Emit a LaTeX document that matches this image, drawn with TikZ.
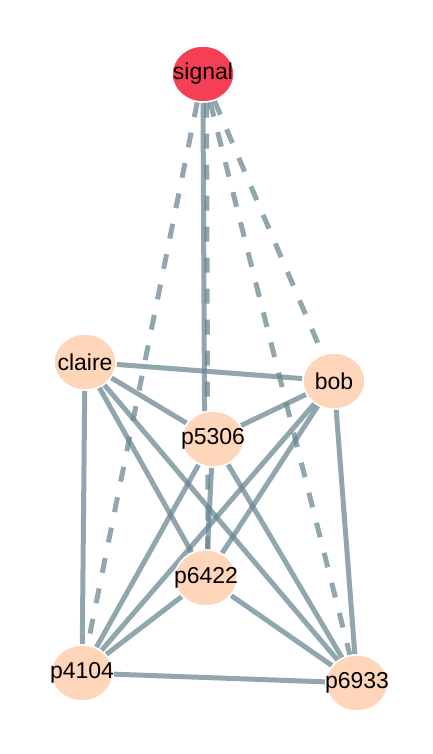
\documentclass[tikz,border=0pt]{standalone}
\usepackage{fontspec}
\setmainfont{Liberation Sans}
\usetikzlibrary{shapes.geometric}
\pgfdeclarelayer{background}
\pgfdeclarelayer{canvas}
\pgfsetlayers{canvas,background,main}
\definecolor{edgecol}{RGB}{105,132,144}
\definecolor{peach}{RGB}{255,214,186}
\definecolor{sigred}{RGB}{244,63,84}
\begin{document}
\begin{tikzpicture}[x=1pt,y=-1pt,
  vert/.style={ellipse,fill=peach,draw=white,line width=1.5pt,minimum width=62pt,minimum height=56pt,inner sep=0pt},
  lbl/.style={font=\fontsize{23}{25}\selectfont,text=black,inner sep=0pt},
  sig/.style={vert,fill=sigred},
  link/.style={draw=edgecol,opacity=0.72,line width=5pt},
  dlink/.style={link,dash pattern=on 15pt off 16pt}]
\begin{pgfonlayer}{canvas}
\fill[white] (0,0) rectangle (433,754);
\end{pgfonlayer}
\useasboundingbox (0,0) rectangle (433,754);
\node[sig]  (signal) at (203,74) {};
\node[vert] (claire) at (85,362) {};
\node[vert] (bob)    at (334,381) {};
\node[vert] (p5306)  at (213,439) {};
\node[vert] (p6422)  at (206,578) {};
\node[vert] (p4104)  at (82,673) {};
\node[vert] (p6933)  at (357,683) {};
\node[lbl] (tsignal) at (signal) {signal};
\node[lbl] (tclaire) at (claire) {claire};
\node[lbl] (tbob) at (bob) {bob};
\node[lbl] (tp5306) at (p5306) {p5306};
\node[lbl] (tp6422) at (p6422) {p6422};
\node[lbl] (tp4104) at (p4104) {p4104};
\node[lbl] (tp6933) at (p6933) {p6933};
\begin{pgfonlayer}{background}
\draw[link] (signal.south) -- (p5306.107);
\draw[dlink] (signal.-83) -- (p6422.86);
\draw[dlink] (signal) -- (p4104);
\draw[dlink] (signal) -- (p6933);
\draw[dlink] (signal) -- (bob);
\draw[link] (claire) -- (bob);
\draw[link] (claire) -- (p5306);
\draw[link] (claire) -- (p6422);
\draw[link] (claire) -- (p6933);
\draw[link] (claire) -- (p4104);
\draw[link] (bob) -- (p5306);
\draw[link] (bob) -- (p6422);
\draw[link] (bob) -- (p4104);
\draw[link] (bob) -- (p6933);
\draw[link] (p5306) -- (p6422);
\draw[link] (p5306) -- (p4104);
\draw[link] (p5306) -- (p6933);
\draw[link] (p6422) -- (p4104);
\draw[link] (p6422) -- (p6933);
\draw[link] (p4104) -- (p6933);
\end{pgfonlayer}
\end{tikzpicture}
\end{document}
